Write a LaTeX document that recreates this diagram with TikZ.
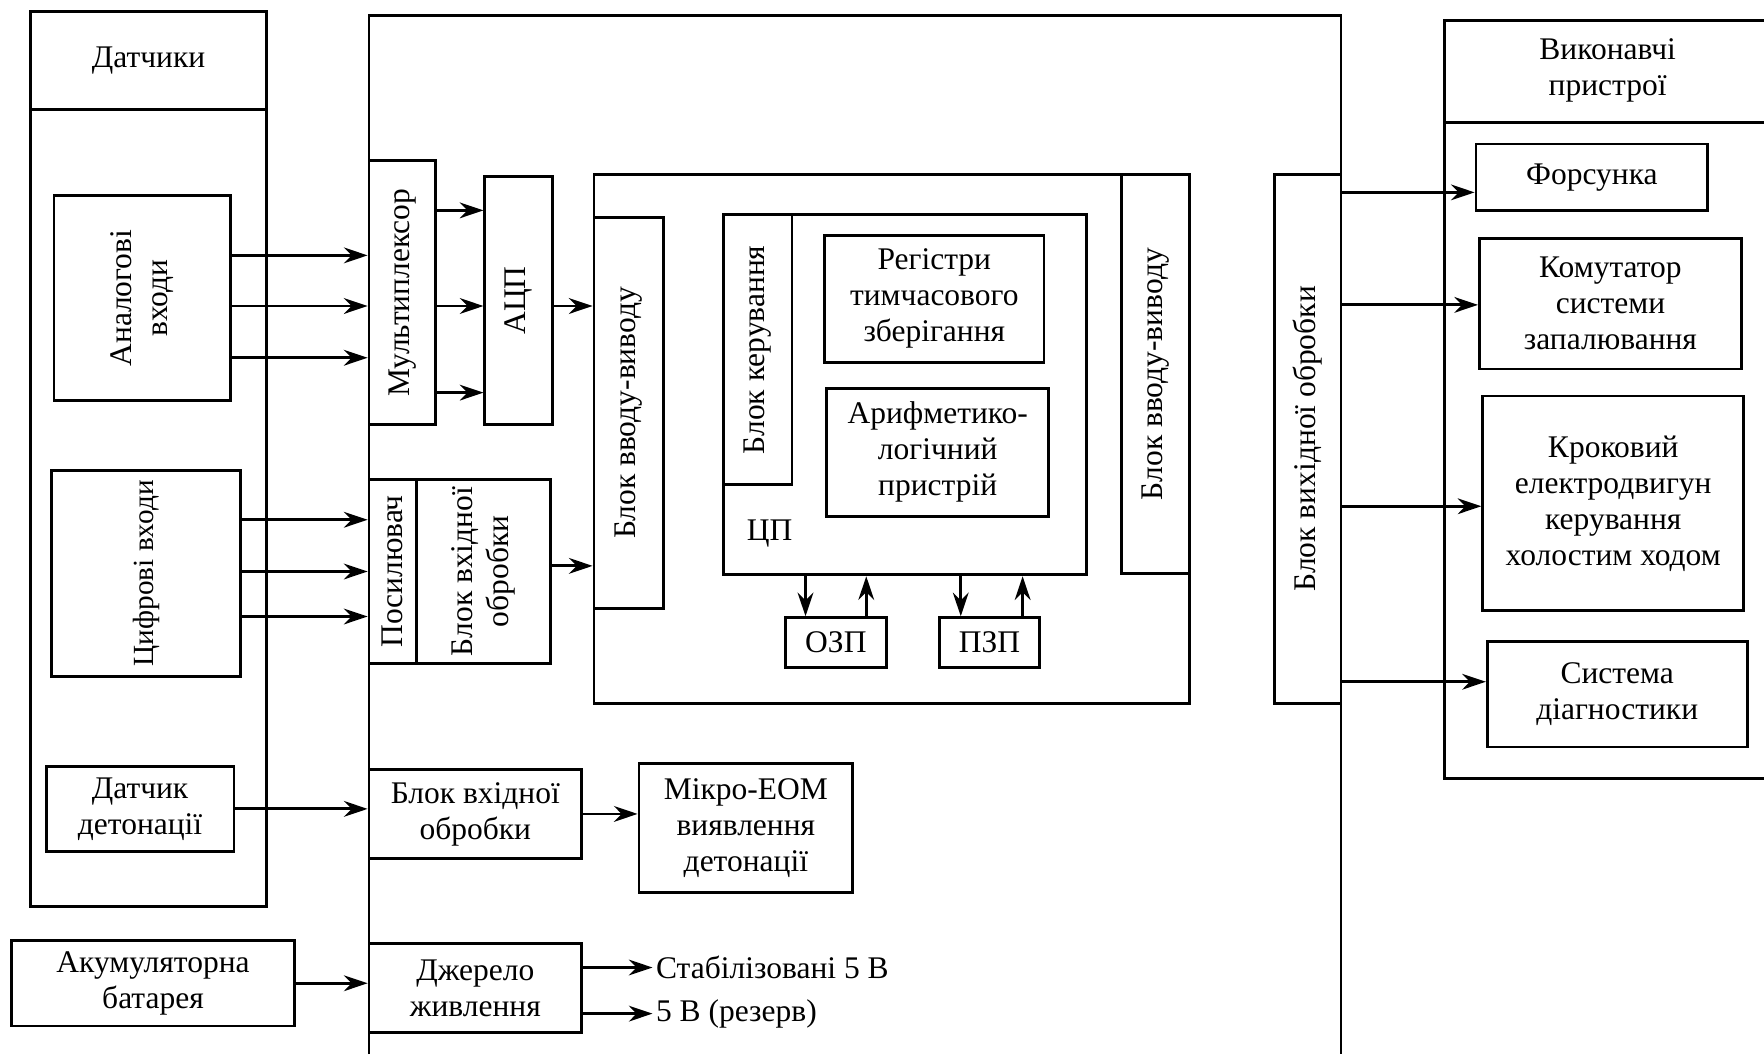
\documentclass[tikz,border=0pt]{standalone}
\usepackage{fontspec}
\setmainfont{Liberation Serif}
\usetikzlibrary{arrows.meta}

\begin{document}
\begin{tikzpicture}[x=1pt,y=-1pt,
  font=\fontsize{28}{32}\selectfont,
  box/.style={draw,line width=2.5pt,inner sep=0pt,align=center},
  vbox/.style={box,rotate=90},
  frame/.style={line width=2.5pt},
  conn/.style={-{Stealth[length=21pt,width=14pt]},line width=2.5pt}]
  \useasboundingbox (0,0) rectangle (1568,937);

  % Sensors column.
  \node[box,minimum width=210,minimum height=87] (senshead) at (132,53.5) {Датчики};
  \node[box,minimum width=210,minimum height=709] (sensbody) at (132,451.5) {};
  \node[vbox,minimum width=182,minimum height=157] (analog) at (126.5,265)
    {Аналогові\\входи};
  \node[vbox,minimum width=183,minimum height=168,font=\fontsize{26}{30}\selectfont]
    (digital) at (130,509.5) {Цифрові входи};
  \node[box,minimum width=167,minimum height=76] (knock) at (124.5,719)
    {Датчик\\детонації};
  \node[box,minimum width=252,minimum height=76] (battery) at (136,874)
    {Акумуляторна\\батарея};

  % Control unit.
  \draw[frame] (328,937) -- (328,14) -- (1192,14) -- (1192,937);
  \node[vbox,minimum width=234,minimum height=59] (mux) at (357.5,260) {Мультиплексор};
  \node[vbox,minimum width=220,minimum height=60] (adc) at (461,267) {АЦП};
  \node[vbox,minimum width=164,minimum height=42] (amp) at (349,508) {Посилювач};
  \node[vbox,minimum width=164,minimum height=119] (inproc) at (429.5,508)
    {Блок вхідної\\обробки};

  \node[box,minimum width=529,minimum height=470] (sys) at (792.5,390) {};
  \node[vbox,minimum width=348,minimum height=62] (iol) at (559,367) {Блок вводу-виводу};
  \node[vbox,minimum width=355,minimum height=60] (ior) at (1027,332.5) {Блок вводу-виводу};
  \node[box,minimum width=323,minimum height=320] (cpu) at (804.5,351) {};
  \node[vbox,minimum width=240,minimum height=61] (ctrl) at (673.5,311) {Блок керування};
  \node[box,minimum width=195,minimum height=113] (regs) at (830.5,265.5)
    {Регістри\\тимчасового\\зберігання};
  \node[box,minimum width=197,minimum height=114] (alu) at (833.5,402)
    {Арифметико-\\логічний\\пристрій};
  \node (cpulbl) at (684,474) {ЦП};
  \node[box,minimum width=90,minimum height=44] (ram) at (743,571) {ОЗП};
  \node[box,minimum width=89,minimum height=44] (rom) at (879.5,571) {ПЗП};

  \node[box,minimum width=189,minimum height=79] (knproc) at (422.5,723.5)
    {Блок вхідної\\обробки};
  \node[box,minimum width=190,minimum height=114] (eom) at (663,736)
    {Мікро-ЕОМ\\виявлення\\детонації};
  \node[box,minimum width=189,minimum height=79] (psu) at (422.5,878.5)
    {Джерело\\живлення};
  \node[anchor=west,inner sep=3pt] (stab) at (580,860) {Стабілізовані 5 В};
  \node[anchor=west,inner sep=3pt] (resv) at (580,901) {5 В (резерв)};
  \node[vbox,minimum width=470,minimum height=59] (outproc) at (1162.5,390)
    {Блок вихідної обробки};

  % Actuators column.
  \draw[frame] (1568,18) -- (1284,18) -- (1284,692) -- (1568,692);
  \draw[frame] (1284,109) -- (1568,109);
  \node[align=center] (acthead) at (1429,63) {Виконавчі\\пристрої};
  \node[box,minimum width=206,minimum height=59] (inj) at (1415,157.5) {Форсунка};
  \node[box,minimum width=233,minimum height=116] (ign) at (1431.5,270)
    {Комутатор\\системи\\запалювання};
  \node[box,minimum width=232,minimum height=191] (idle) at (1434,447.5)
    {Кроковий\\електродвигун\\керування\\холостим ходом};
  \node[box,minimum width=231,minimum height=94] (diag) at (1437.5,617)
    {Система\\діагностики};

  % Signal paths.
  \foreach \y in {227,272,318}
    \draw[conn] (analog.south |- 0,\y) -- (mux.north |- 0,\y);
  \foreach \y in {187,272,349}
    \draw[conn] (mux.south |- 0,\y) -- (adc.north |- 0,\y);
  \draw[conn] (adc.south |- 0,272) -- (iol.north |- 0,272);
  \foreach \y in {462,508,548}
    \draw[conn] (digital.south |- 0,\y) -- (amp.north |- 0,\y);
  \draw[conn] (inproc.south |- 0,503) -- (iol.north |- 0,503);
  \draw[conn] (knock.east) -- (knproc.west |- knock.east);
  \draw[conn] (knproc.east) -- (eom.west |- knproc.east);
  \draw[conn] (battery.east) -- (psu.west |- battery.east);
  \draw[conn] (psu.east |- stab.west) -- (stab.west);
  \draw[conn] (psu.east |- resv.west) -- (resv.west);

  % CPU and memory.
  \draw[conn] (716,0 |- cpu.south) -- (716,0 |- ram.north);
  \draw[conn] (770,0 |- ram.north) -- (770,0 |- cpu.south);
  \draw[conn] (854,0 |- cpu.south) -- (854,0 |- rom.north);
  \draw[conn] (909,0 |- rom.north) -- (909,0 |- cpu.south);

  % Outputs to actuators.
  \draw[conn] (outproc.south |- 0,171) -- (inj.west |- 0,171);
  \draw[conn] (outproc.south |- 0,271) -- (ign.west |- 0,271);
  \draw[conn] (outproc.south |- 0,450) -- (idle.west |- 0,450);
  \draw[conn] (outproc.south |- 0,606) -- (diag.west |- 0,606);
\end{tikzpicture}
\end{document}
